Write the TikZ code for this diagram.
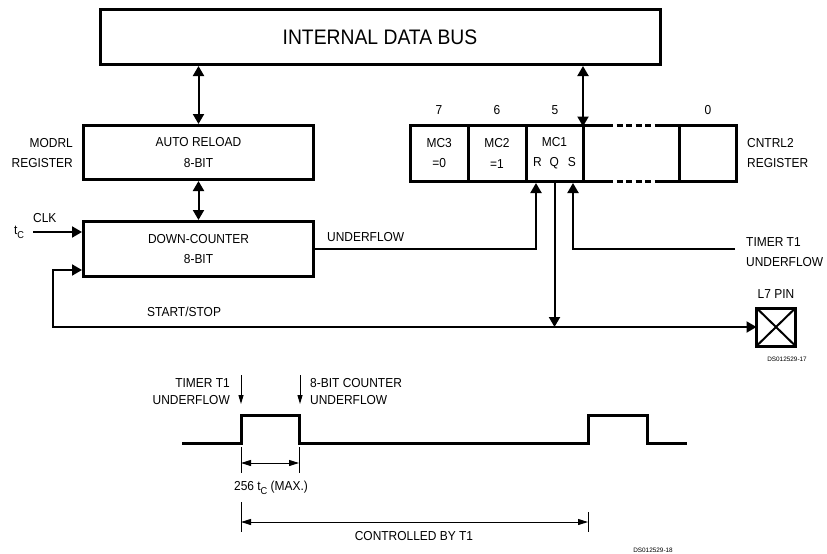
\documentclass[tikz,border=0pt]{standalone}
\usepackage{fontspec}
\setmainfont{Liberation Sans}
\newfontfamily\labelfont[FakeStretch=0.92]{Liberation Sans}
\usetikzlibrary{arrows.meta}
\tikzset{
  regbox/.style={draw,line width=3pt,inner sep=0pt,align=center,font=\labelfont\fontsize{13}{20.5}\selectfont},
  cell/.style={regbox,outer sep=0pt,minimum height=56.5pt},
  lbl/.style={inner sep=0pt,font=\labelfont\fontsize{13}{20}\selectfont},
  sig/.style={line width=2pt,-{Triangle[length=10pt,width=11pt]}},
  dsig/.style={line width=2pt,{Triangle[length=10pt,width=11pt]}-{Triangle[length=10pt,width=11pt]}},
  evt/.style={line width=1pt,-{Triangle[length=9pt,width=5pt]}},
  dimarr/.style={line width=1pt,{Triangle[length=10pt,width=6pt]}-{Triangle[length=10pt,width=6pt]}},
  tiny/.style={inner sep=0pt,font=\fontsize{6.4}{8}\selectfont}
}
\newcommand{\tC}{t\raisebox{-4pt}{\fontsize{10}{10}\selectfont C}}
\begin{document}
\begin{tikzpicture}[x=1pt,y=-1pt]
\useasboundingbox (0,0) rectangle (827,554);
\node[regbox,minimum width=560pt,minimum height=55pt,font=\labelfont\fontsize{21}{24}\selectfont] (bus) at (380,37) {INTERNAL DATA BUS};
\node[regbox,minimum width=230pt,minimum height=54pt] (autoreload) at (198.5,152.5) {AUTO RELOAD\\8-BIT};
\node[regbox,minimum width=230pt,minimum height=55pt] (downcounter) at (198.5,249) {DOWN-COUNTER\\8-BIT};
\node[lbl,anchor=east,align=right] (modrl) at (73,153) {MODRL\\REGISTER};

\node[cell,minimum width=57.5pt] (mc3) at (439.25,153.25) {MC3\\=0};
\node[cell,minimum width=58pt] (mc2) at (497,153.25) {MC2\\=1};
\node[cell,minimum width=57pt] (mc1) at (554.5,153.25) {MC1\\R\hspace{8pt}Q\hspace{9pt}S};
\node[cell,minimum width=57.5pt] (b0) at (707.75,153.25) {};
\draw[line width=3pt] (mc1.north east) -- (607,125) (657,125) -- (b0.north west)
  (mc1.south east) -- (607,181.5) (657,181.5) -- (b0.south west);
\draw[line width=3pt,dash pattern=on 6pt off 3.5pt] (607,125) -- (657,125) (607,181.5) -- (657,181.5);
\node[lbl,anchor=west,align=left] (cntrl) at (747,153) {CNTRL2\\REGISTER};
\foreach \b/\x in {7/439,6/497,5/555,0/708}
  \node[lbl] at (\x,110) {\b};

\draw[dsig] (bus.south -| autoreload.north) -- (autoreload.north);
\draw[dsig] (autoreload.south) -- (downcounter.north);
\draw[dsig] (bus.south -| mc1.north east) -- ([yshift=-1.5pt]mc1.north east);

\coordinate (clk) at (33,232);
\draw[sig] (clk) -- (clk -| downcounter.west);
\node[lbl,anchor=south west] at (33,223) {CLK};
\node[inner sep=0pt,font=\labelfont\fontsize{13}{13}\selectfont,anchor=base] at (19,234) {\tC};

\coordinate (rpin) at (536,183);
\coordinate (spin) at (573,183);
\coordinate (t1end) at (735,249);
\draw[sig] (downcounter.east) -| (rpin);
\node[lbl,anchor=west] at (327,237) {UNDERFLOW};
\draw[sig] (t1end) -| (spin);
\node[lbl,anchor=west,align=left] at (746,252) {TIMER T1\\UNDERFLOW};

\node[draw,line width=3pt,outer sep=0pt,minimum width=39pt,minimum height=38pt] (pin) at (776,327) {};
\draw[line width=2pt] (pin.north west) -- (pin.south east) (pin.south west) -- (pin.north east);
\node[lbl] at (776,294) {L7 PIN};
\node[tiny] at (787,359) {DS012529-17};

\coordinate (ssturn) at (53,270);
\draw[sig] ([yshift=1.5pt]mc1.south) -- (mc1.south |- pin.west);
\draw[sig] (mc1.south |- pin.west) -- (pin.west);
\draw[sig] (mc1.south |- pin.west) -| (ssturn) -- (ssturn -| downcounter.west);
\node[lbl,anchor=west] at (147,312) {START/STOP};

\draw[line width=3pt] (182,443) -- (241,443) -- (241,415) -- (299,415) -- (299,443)
  -- (588,443) -- (588,415) -- (647,415) -- (647,443) -- (687,443);
\draw[evt] (241,375) -- (241,404);
\draw[evt] (300,375) -- (300,404);
\node[lbl,anchor=east,align=right,font=\labelfont\fontsize{13}{17}\selectfont] at (230,391.5) {TIMER T1\\UNDERFLOW};
\node[lbl,anchor=west,align=left,font=\labelfont\fontsize{13}{17}\selectfont] at (310,391.5) {8-BIT COUNTER\\UNDERFLOW};

\draw[line width=1pt] (241,447) -- (241,473) (299,447) -- (299,473);
\draw[dimarr] (241,463) -- (299,463);
\node[lbl] at (271,488) {256 \tC\ (MAX.)};
\draw[line width=1pt] (241,502) -- (241,532) (588,512) -- (588,532);
\draw[dimarr] (241,522) -- (588,522);
\node[lbl] at (414,536) {CONTROLLED BY T1};
\node[tiny] at (653,550) {DS012529-18};
\end{tikzpicture}
\end{document}
